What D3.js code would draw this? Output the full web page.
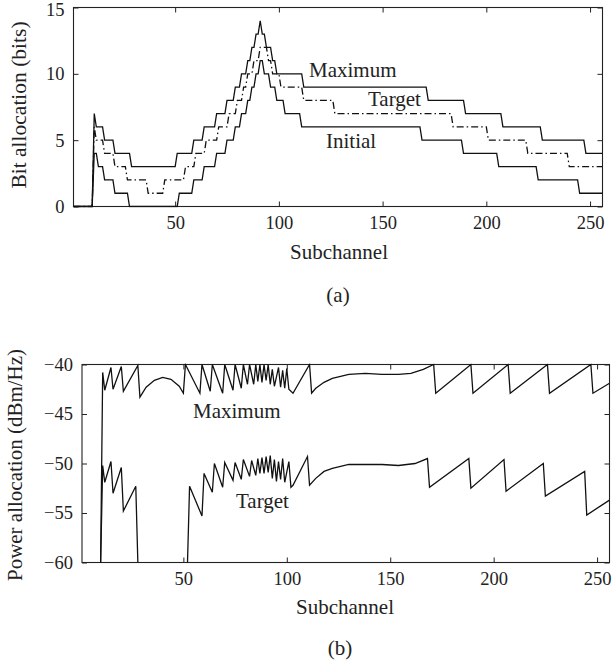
<!DOCTYPE html>
<html>
<head>
<meta charset="utf-8">
<script src="https://cdn.jsdelivr.net/npm/d3@7"></script>
<style>
  body { margin: 0; background: #fff; }
  text { font-family: "Liberation Serif", "DejaVu Serif", serif; fill: #222; }
</style>
</head>
<body>
<div id="chart"></div>
<script>
// --- data ---

// (a) bit allocation: each run starts at a subchannel and keeps its level
var maxStart = [1, 11, 12, 16, 21, 29, 51, 59, 64, 70, 75, 79, 82, 85, 87, 89, 91, 92, 94, 97, 99, 112, 172, 190, 208, 227, 248];
var maxLevel = [0, 7, 6, 5, 4, 3, 4, 5, 6, 7, 8, 9, 10, 11, 12, 13, 14, 13, 12, 11, 10, 9, 8, 7, 6, 5, 4];

var tgtStart = [1, 11, 12, 16, 21, 27, 37, 45, 55, 60, 65, 71, 76, 80, 83, 85, 88, 91, 95, 97, 101, 112, 127, 184, 201, 220, 240];
var tgtLevel = [0, 6, 5, 4, 3, 2, 1, 2, 3, 4, 5, 6, 7, 8, 9, 10, 11, 12, 11, 10, 9, 8, 7, 6, 5, 4, 3];

var iniStart = [1, 11, 13, 16, 21, 28, 52, 59, 64, 70, 75, 79, 82, 85, 87, 89, 91, 93, 96, 99, 103, 111, 169, 189, 206, 225, 245];
var iniLevel = [0, 4, 3, 2, 1, 0, 1, 2, 3, 4, 5, 6, 7, 8, 9, 10, 11, 10, 9, 8, 7, 6, 5, 4, 3, 2, 1];

// (b) power allocation (dBm/Hz), vertices of the plotted lines (-60 = no power)
var maxPowN = [1, 10, 11, 12, 15, 16, 20, 21, 28, 29, 32, 36, 40, 44, 48, 50, 51, 58, 59, 63, 64, 69, 70, 74, 75, 78, 79, 81, 82, 84, 85, 86, 87, 88, 89, 90, 91, 92, 93, 94, 96, 97, 98, 99, 100, 101, 103, 111, 112, 114, 118, 122, 130, 138, 146, 154, 160, 166, 171, 172, 189, 190, 207, 208, 226, 227, 247, 248, 256];
var maxPowV = [-60, -60, -40.8, -42.6, -40.3, -42.5, -40.2, -42.7, -40.1, -43.3, -42.3, -41.6, -41.3, -41.5, -42.2, -42.9, -40.0, -42.9, -40.0, -42.7, -40.0, -42.9, -40.0, -42.6, -40.0, -42.4, -40.0, -42.0, -40.0, -42.0, -40.0, -41.7, -40.0, -41.8, -40.0, -41.6, -40.0, -42.0, -40.5, -42.2, -40.3, -42.3, -40.6, -42.4, -40.4, -42.5, -42.9, -40.0, -42.9, -42.4, -41.8, -41.4, -41.0, -40.9, -41.0, -41.0, -40.9, -40.5, -40.0, -42.9, -40.0, -42.9, -40.0, -42.9, -40.0, -42.9, -40.0, -42.9, -41.9];

var tgtPowN = [1, 10, 11, 12, 15, 16, 20, 21, 27, 28, 52, 53, 59, 60, 64, 65, 69, 70, 74, 75, 78, 79, 82, 83, 85, 86, 87, 88, 89, 90, 91, 92, 93, 94, 95, 96, 97, 98, 99, 101, 102, 103, 110, 111, 114, 118, 122, 130, 138, 146, 154, 162, 168, 169, 188, 189, 205, 206, 224, 225, 244, 245, 256];
var tgtPowV = [-60, -60, -50.2, -51.9, -49.8, -53.0, -50.4, -54.8, -52.3, -60, -60, -52.3, -55.3, -51.0, -52.9, -50.0, -52.4, -49.9, -51.7, -49.9, -51.6, -49.6, -51.3, -49.7, -51.2, -49.5, -51.0, -49.4, -51.0, -49.3, -50.9, -49.2, -51.5, -49.6, -51.8, -49.8, -51.6, -49.5, -51.9, -49.8, -52.4, -52.2, -49.3, -52.2, -51.5, -50.8, -50.5, -50.1, -50.1, -50.1, -50.2, -50.0, -49.5, -52.4, -49.5, -52.5, -49.6, -52.8, -50.0, -53.3, -50.8, -55.2, -53.7];

var xTicks = [50, 100, 150, 200, 250];
var bitTicks = [0, 5, 10, 15];
var powTicks = [-60, -55, -50, -45, -40];

// --- helpers ---
// turn runs into line vertices (level held to the last subchannel of the run)
function runsToPoints(start, level, last) {
  var pts = [];
  for (var i = 0; i < start.length; i++) {
    var end = i < start.length - 1 ? start[i + 1] - 1 : last;
    pts.push([start[i], level[i]]);
    if (end > start[i]) pts.push([end, level[i]]);
  }
  return pts;
}

var svg = d3.select("#chart")
  .append("svg")
  .attr("width", 614)
  .attr("height", 663);

function drawFrame(g, x, y, yTicks, yFmt) {
  var w = x.range()[1] - x.range()[0];
  var h = y.range()[0] - y.range()[1];

  g.append("g")
    .attr("transform", "translate(0," + y.range()[0] + ")")
    .call(d3.axisBottom(x).tickValues(xTicks).tickSize(-5).tickSizeOuter(0).tickPadding(9))
    .call(function(a) { a.select(".domain").remove(); })
    .selectAll("text").style("font-size", "18.5px").style("font-family", "Liberation Serif").attr("fill", "#222");

  g.append("g")
    .attr("transform", "translate(0," + y.range()[1] + ")")
    .call(d3.axisTop(x).tickValues(xTicks).tickSize(-5).tickSizeOuter(0).tickFormat(""))
    .call(function(a) { a.select(".domain").remove(); });

  g.append("g")
    .attr("transform", "translate(" + x.range()[0] + ",0)")
    .call(d3.axisLeft(y).tickValues(yTicks).tickSize(-5).tickSizeOuter(0).tickPadding(9).tickFormat(yFmt))
    .call(function(a) { a.select(".domain").remove(); })
    .selectAll("text").style("font-size", "18.5px").style("font-family", "Liberation Serif").attr("fill", "#222");

  g.append("g")
    .attr("transform", "translate(" + x.range()[1] + ",0)")
    .call(d3.axisRight(y).tickValues(yTicks).tickSize(-5).tickSizeOuter(0).tickFormat(""))
    .call(function(a) { a.select(".domain").remove(); });

  g.selectAll(".tick line").attr("stroke", "#222");

  g.append("rect")
    .attr("x", x.range()[0])
    .attr("y", y.range()[1])
    .attr("width", w)
    .attr("height", h)
    .attr("fill", "none")
    .attr("stroke", "#222")
    .attr("stroke-width", 1.1);
}

function addClip(id, x, y) {
  svg.append("clipPath").attr("id", id)
    .append("rect")
    .attr("x", x.range()[0])
    .attr("y", y.range()[1] - 1)
    .attr("width", x.range()[1] - x.range()[0])
    .attr("height", y.range()[0] - y.range()[1] + 2);
}

// ---------- (a) bit allocation ----------
var xa = d3.scaleLinear().domain([1, 256]).range([73.5, 602.5]);
var ya = d3.scaleLinear().domain([0, 15]).range([206.5, 7.5]);
var ga = svg.append("g");
addClip("clipA", xa, ya);
drawFrame(ga, xa, ya, bitTicks, d3.format("d"));
// keep the top label inside the page
ga.selectAll(".tick text").filter(function(d) { return d === 15; }).attr("dy", "0.42em");

var lineA = d3.line()
  .x(function(d) { return xa(d[0]); })
  .y(function(d) { return ya(d[1]); });

var bitSeries = [
  { pts: runsToPoints(maxStart, maxLevel, 256), dash: null },
  { pts: runsToPoints(tgtStart, tgtLevel, 256), dash: "7,3,1.5,3" },
  { pts: runsToPoints(iniStart, iniLevel, 256), dash: null }
];
ga.append("g").attr("clip-path", "url(#clipA)")
  .selectAll("path")
  .data(bitSeries)
  .enter()
  .append("path")
  .attr("d", function(s) { return lineA(s.pts); })
  .attr("fill", "none")
  .attr("stroke", "#111")
  .attr("stroke-width", 1.3)
  .attr("stroke-dasharray", function(s) { return s.dash; });

ga.append("text").attr("x", 309).attr("y", 77).style("font-size", "21px").text("Maximum");
ga.append("text").attr("x", 368).attr("y", 106).style("font-size", "21px").text("Target");
ga.append("text").attr("x", 326).attr("y", 148).style("font-size", "21px").text("Initial");

ga.append("text")
  .attr("transform", "translate(26,105) rotate(-90)")
  .attr("text-anchor", "middle")
  .style("font-size", "21.5px")
  .text("Bit allocation (bits)");
ga.append("text").attr("x", 339).attr("y", 259).attr("text-anchor", "middle").style("font-size", "21px").text("Subchannel");
ga.append("text").attr("x", 338).attr("y", 302).attr("text-anchor", "middle").style("font-size", "21px").text("(a)");

// ---------- (b) power allocation ----------
var xb = d3.scaleLinear().domain([1, 256]).range([82, 609.5]);
var yb = d3.scaleLinear().domain([-60, -40]).range([562.5, 364.5]);
var gb = svg.append("g");
addClip("clipB", xb, yb);
drawFrame(gb, xb, yb, powTicks, function(d) { return d < 0 ? "\u2212" + Math.abs(d) : d; });

var lineB = d3.line()
  .x(function(d) { return xb(d[0]); })
  .y(function(d) { return yb(d[1]); });

// split a series into pieces, leaving out the stretches with no power (on the axis)
function powerPieces(n, v) {
  var pieces = [], cur = [];
  for (var i = 0; i < n.length; i++) {
    if (i > 0 && v[i] === -60 && v[i - 1] === -60) {
      if (cur.length > 1) pieces.push(cur);
      cur = [];
    }
    cur.push([n[i], v[i]]);
  }
  if (cur.length > 1) pieces.push(cur);
  return pieces;
}

var powSeries = powerPieces(maxPowN, maxPowV).concat(powerPieces(tgtPowN, tgtPowV));
gb.append("g").attr("clip-path", "url(#clipB)")
  .selectAll("path")
  .data(powSeries)
  .enter()
  .append("path")
  .attr("d", lineB)
  .attr("fill", "none")
  .attr("stroke", "#111")
  .attr("stroke-width", 1.3);

gb.append("text").attr("x", 193).attr("y", 418).style("font-size", "21px").text("Maximum");
gb.append("text").attr("x", 236).attr("y", 508).style("font-size", "21px").text("Target");

gb.append("text")
  .attr("transform", "translate(22,465) rotate(-90)")
  .attr("text-anchor", "middle")
  .style("font-size", "21px")
  .text("Power allocation (dBm/Hz)");
gb.append("text").attr("x", 345).attr("y", 614).attr("text-anchor", "middle").style("font-size", "21px").text("Subchannel");
gb.append("text").attr("x", 340).attr("y", 655).attr("text-anchor", "middle").style("font-size", "21px").text("(b)");
</script>
</body>
</html>
